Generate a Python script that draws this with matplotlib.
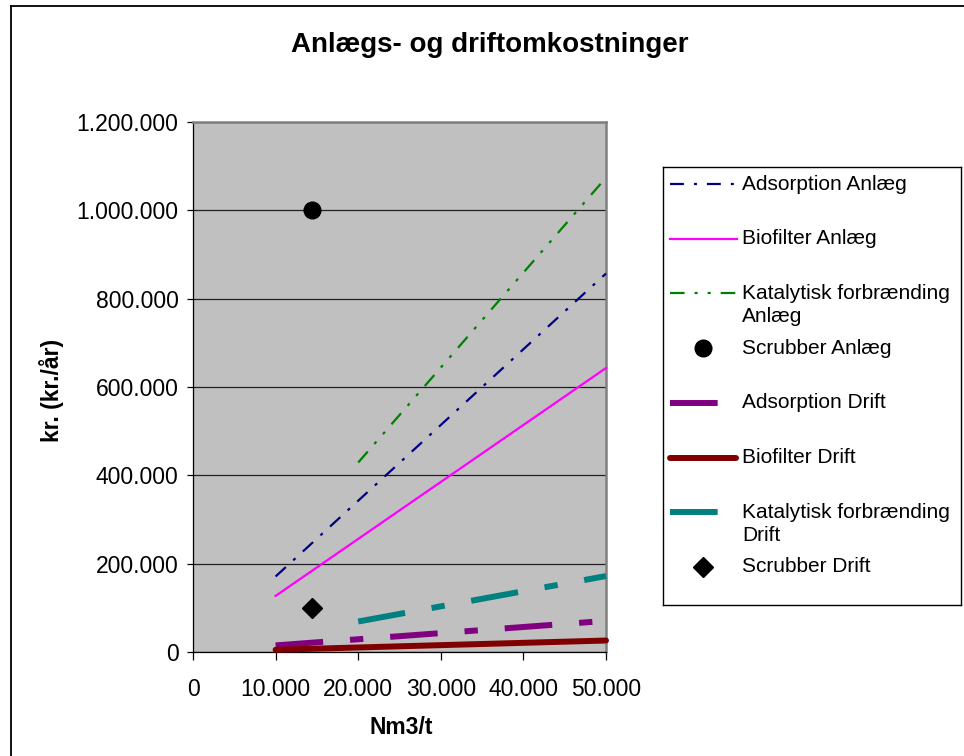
import matplotlib
matplotlib.use('Agg')
import matplotlib.pyplot as plt
from matplotlib.lines import Line2D
from matplotlib.ticker import FuncFormatter, FixedLocator

plt.rcParams['font.family'] = ['Liberation Sans', 'DejaVu Sans']
plt.rcParams['lines.scale_dashes'] = False

# ---------------- data ----------------
title = "Anlægs- og driftomkostninger"
x_label = "Nm3/t"
y_label = "kr. (kr./år)"

x_ticks = [0, 10000, 20000, 30000, 40000, 50000]
y_ticks = [0, 200000, 400000, 600000, 800000, 1000000, 1200000]

series_labels = [
    "Adsorption Anlæg",
    "Biofilter Anlæg",
    "Katalytisk forbrænding\nAnlæg",
    "Scrubber Anlæg",
    "Adsorption Drift",
    "Biofilter Drift",
    "Katalytisk forbrænding\nDrift",
    "Scrubber Drift",
]

adsorption_anlaeg_x = [10000, 50000]
adsorption_anlaeg_y = [171000, 857000]
biofilter_anlaeg_x = [10000, 50000]
biofilter_anlaeg_y = [127000, 643000]
katalytisk_anlaeg_x = [20000, 50000]
katalytisk_anlaeg_y = [429000, 1074000]
scrubber_anlaeg_x = [14400]
scrubber_anlaeg_y = [1000000]
adsorption_drift_x = [10000, 50000]
adsorption_drift_y = [15000, 70500]
biofilter_drift_x = [10000, 50000]
biofilter_drift_y = [5000, 26000]
katalytisk_drift_x = [20000, 50000]
katalytisk_drift_y = [69000, 172000]
scrubber_drift_x = [14400]
scrubber_drift_y = [100000]

series_x = [adsorption_anlaeg_x, biofilter_anlaeg_x, katalytisk_anlaeg_x, scrubber_anlaeg_x,
            adsorption_drift_x, biofilter_drift_x, katalytisk_drift_x, scrubber_drift_x]
series_y = [adsorption_anlaeg_y, biofilter_anlaeg_y, katalytisk_anlaeg_y, scrubber_anlaeg_y,
            adsorption_drift_y, biofilter_drift_y, katalytisk_drift_y, scrubber_drift_y]

# ---------------- styles ----------------
thick_dash = (0, (34.3, 19.4, 9.6, 19.4))
styles = [
    dict(color='#000080', lw=1.6, linestyle=(0, (10, 7.2, 2.2, 7.2))),
    dict(color='#FF00FF', lw=1.6, linestyle='-'),
    dict(color='#008000', lw=1.6, linestyle=(0, (10.5, 7.2, 2.2, 7.2, 2.2, 7.2))),
    dict(color='black', linestyle='none', marker='o', markersize=12),
    dict(color='#800080', lw=4.3, linestyle=thick_dash, dash_capstyle='butt'),
    dict(color='#800000', lw=4.3, linestyle='-', solid_capstyle='round'),
    dict(color='#008080', lw=4.3, linestyle=thick_dash, dash_capstyle='butt'),
    dict(color='black', linestyle='none', marker='D', markersize=10.5),
]

W, H = 964, 756
fig = plt.figure(figsize=(W / 100, H / 100), dpi=100)


def fx(px):
    return px / W


def fy(py):
    return 1 - py / H


# ---------------- main axes ----------------
ax = fig.add_axes([fx(193), fy(652), fx(606) - fx(193), fy(122) - fy(652)])
ax.set_facecolor('#C0C0C0')

for xs, ys, st in zip(series_x, series_y, styles):
    ax.plot(xs, ys, clip_on=False, zorder=3, **st)

ax.set_xlim(0, 50000)
ax.set_ylim(0, 1200000)
ax.xaxis.set_major_locator(FixedLocator(x_ticks))
ax.yaxis.set_major_locator(FixedLocator(y_ticks))
fmt = FuncFormatter(lambda v, p: f"{int(round(v)):,}".replace(',', '.'))
ax.xaxis.set_major_formatter(fmt)
ax.yaxis.set_major_formatter(fmt)
ax.tick_params(axis='both', direction='out', colors='black', labelsize=16.5, width=0.9)
ax.tick_params(axis='x', length=6, pad=13)
ax.tick_params(axis='y', length=4.5, pad=6)

ax.set_axisbelow(True)
ax.yaxis.grid(True, color='#202020', lw=0.9)
ax.xaxis.grid(False)
for side in ['left', 'bottom']:
    ax.spines[side].set_color('black')
    ax.spines[side].set_linewidth(0.9)
for side in ['top', 'right']:
    ax.spines[side].set_color('#808080')
    ax.spines[side].set_linewidth(1.8)

# ---------------- texts ----------------
fig.text(fx(490), fy(45), title, fontsize=20, fontweight='bold', ha='center', va='center')
fig.text(fx(401), fy(727), x_label, fontsize=16.5, fontweight='bold', ha='center', va='center')
fig.text(fx(51), fy(390), y_label, fontsize=16.5, fontweight='bold', ha='center', va='center',
         rotation=90)

# ---------------- legend ----------------
lx0, ly0, lx1, ly1 = 663, 167, 961, 605
lax = fig.add_axes([fx(lx0), fy(ly1), fx(lx1) - fx(lx0), fy(ly0) - fy(ly1)])
lax.set_xlim(0, lx1 - lx0)
lax.set_ylim(ly1 - ly0, 0)
lax.set_xticks([])
lax.set_yticks([])
for s in lax.spines.values():
    s.set_color('black')
    s.set_linewidth(1.0)

for i, (lab, st) in enumerate(zip(series_labels, styles)):
    yc = 17 + 54.7 * i
    if st.get('marker'):
        lax.plot([40], [yc], **st)
    elif st['lw'] > 3 and st['linestyle'] != '-':
        lax.plot([7, 55], [yc, yc], **st)
    elif st['lw'] > 3:
        lax.plot([7, 73], [yc, yc], **st)
    else:
        lax.plot([7, 74], [yc, yc], **st)
    for k, line in enumerate(lab.split('\n')):
        lax.text(79, yc + 23 * k, line, fontsize=15, ha='left', va='center')

# ---------------- outer border ----------------
fig.add_artist(Line2D([fx(11), fx(11)], [fy(6), 0], transform=fig.transFigure,
                      color='black', lw=1.3))
fig.add_artist(Line2D([fx(11), 1], [fy(6), fy(6)], transform=fig.transFigure,
                      color='black', lw=1.3))

fig.savefig('out.png', dpi=100, facecolor='white')
